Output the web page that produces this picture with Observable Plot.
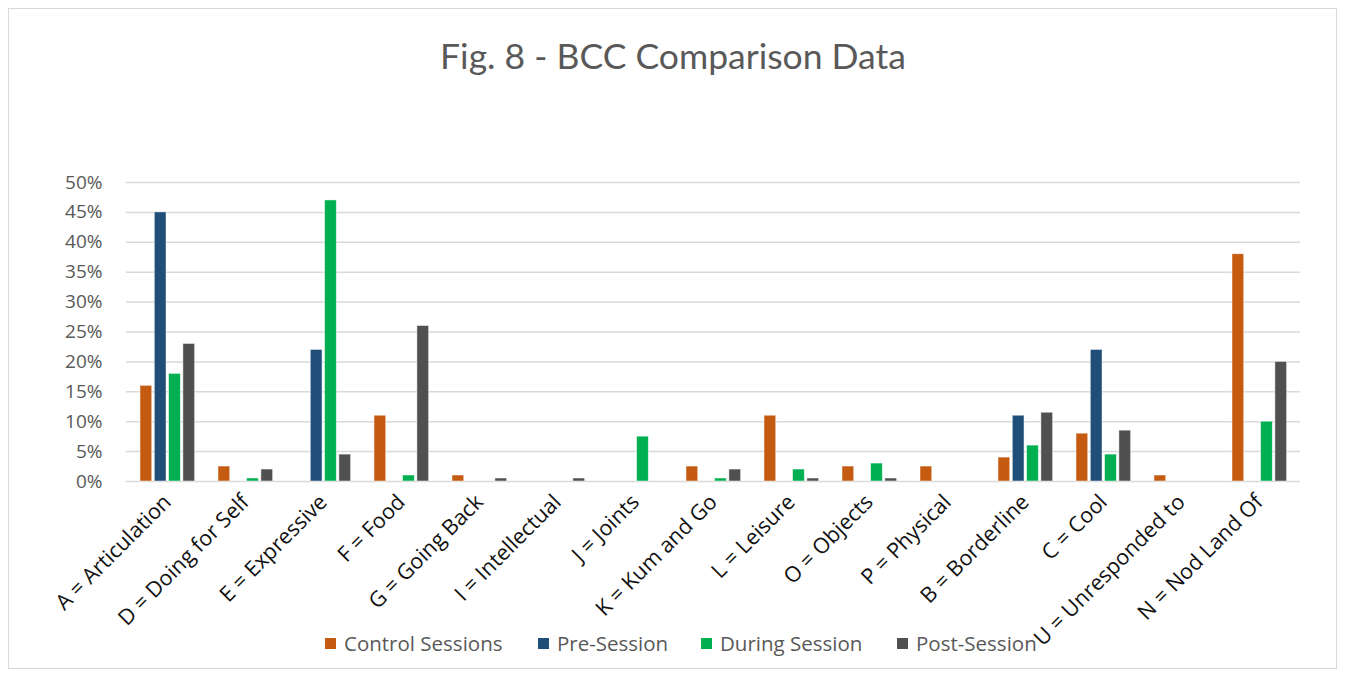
<!DOCTYPE html>
<html>
<head>
<meta charset="utf-8">
<script src="https://cdn.jsdelivr.net/npm/d3@7"></script>
<script src="https://cdn.jsdelivr.net/npm/@observablehq/plot@0.6"></script>
<style>
  html, body { margin: 0; padding: 0; background: #fff; }
  #wrap { position: relative; width: 1346px; height: 679px; overflow: hidden; font-family: "Open Sans", Lato, sans-serif; }
  #frame { position: absolute; left: 8px; top: 8px; width: 1329px; height: 661px; border: 1px solid #d9d9d9; box-sizing: border-box; }
  #chart { position: absolute; left: 0; top: 0; }
  #title { position: absolute; left: 0; width: 1346px; top: 34px; text-align: center; font-family: Lato, sans-serif; font-size: 35.5px; color: #595959; }
  #legend { position: absolute; top: 629px; left: 0; width: 1346px; height: 28px; font-size: 20.5px; color: #595959; }
  .item { position: absolute; top: 0; display: flex; align-items: center; white-space: nowrap; }
  .sw { width: 11px; height: 11px; margin-right: 8px; }
</style>
</head>
<body>
<div id="wrap">
  <div id="frame"></div>
  <div id="chart"></div>
  <div id="title">Fig. 8 - BCC Comparison Data</div>
  <div id="legend"></div>
</div>
<script>
const categories = ["A = Articulation", "D = Doing for Self", "E = Expressive", "F = Food", "G = Going Back", "I = Intellectual", "J = Joints", "K = Kum and Go", "L = Leisure", "O = Objects", "P = Physical", "B = Borderline", "C = Cool", "U = Unresponded to", "N = Nod Land Of"];
const seriesNames = ["Control Sessions", "Pre-Session", "During Session", "Post-Session"];
const seriesColors = ["#c55a11", "#1f4e79", "#00b050", "#505050"];
const control = [0.16, 0.025, 0, 0.11, 0.01, 0, 0, 0.025, 0.11, 0.025, 0.025, 0.04, 0.08, 0.01, 0.38];
const pre     = [0.45, 0, 0.22, 0, 0, 0, 0, 0, 0, 0, 0, 0.11, 0.22, 0, 0];
const during  = [0.18, 0.005, 0.47, 0.01, 0, 0, 0.075, 0.005, 0.02, 0.03, 0, 0.06, 0.045, 0, 0.10];
const post    = [0.23, 0.02, 0.045, 0.26, 0.005, 0.005, 0, 0.02, 0.005, 0.005, 0, 0.115, 0.085, 0, 0.20];
const yTicks = [0, 0.05, 0.10, 0.15, 0.20, 0.25, 0.30, 0.35, 0.40, 0.45, 0.50];

const allSeries = [control, pre, during, post];

// bar layout inside each category band (pixels)
const groupPad = 12, barStep = 14.3, barW = 12, bandW = (1346 - 126 - 46) / categories.length;

const barMarks = allSeries.map((vals, j) => {
  const rows = categories.map((c, i) => ({category: c, series: seriesNames[j], value: vals[i]}));
  const left = groupPad + j * barStep;
  return Plot.barY(rows, {
    x: "category", y: "value", fill: "series",
    insetLeft: left, insetRight: bandW - left - barW,
    stroke: "#fff", strokeOpacity: 0.6, strokeWidth: 0.8
  });
});

const chart = Plot.plot({
  width: 1346,
  height: 679,
  marginTop: 182,
  marginBottom: 198,
  marginLeft: 126,
  marginRight: 46,
  style: {background: "transparent", fontFamily: "'Open Sans', Lato, sans-serif"},
  x: {domain: categories, padding: 0, axis: null},
  y: {domain: [0, 0.5], axis: null},
  color: {domain: seriesNames, range: seriesColors},
  marks: [
    Plot.ruleY(yTicks, {stroke: "#d9d9d9", strokeWidth: 1.5}),
    ...barMarks,
    Plot.axisY(yTicks, {tickFormat: d => Math.round(d * 100) + "%", tickSize: 0, tickPadding: 24, fontSize: 19, color: "#595959", label: null}),
    Plot.axisX({anchor: "bottom", tickRotate: -45, tickSize: 0, tickPadding: 17, fontSize: 21.5, color: "#111", label: null})
  ]
});
document.getElementById("chart").appendChild(chart);

const legend = document.getElementById("legend");
const legendLeft = [325, 538, 701, 897];
seriesNames.forEach((s, j) => {
  const item = document.createElement("div");
  item.className = "item";
  item.style.left = legendLeft[j] + "px";
  const sw = document.createElement("div");
  sw.className = "sw";
  sw.style.background = seriesColors[j];
  const t = document.createElement("span");
  t.textContent = s;
  item.appendChild(sw);
  item.appendChild(t);
  legend.appendChild(item);
});
</script>
</body>
</html>
